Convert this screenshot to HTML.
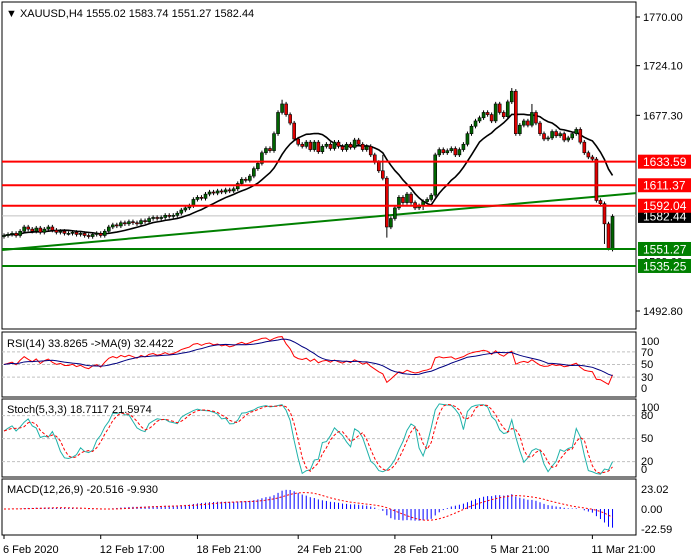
<!DOCTYPE html>
<html><head><meta charset="utf-8"><style>
body{margin:0;background:#fff;}
svg{display:block;font-family:"Liberation Sans",sans-serif;}
</style></head><body>
<svg id="chart" width="700" height="560" xmlns="http://www.w3.org/2000/svg">
<rect x="0" y="0" width="700" height="560" fill="#fff"/>
<g id="main"></g>
<g id="rsi"></g>
<g id="stoch"></g>
<g id="macd"></g>
<g id="xaxis"></g>
</svg>
<script>
const closes=[1564,1565,1566,1564,1568,1572,
1570,1568,1571,1567,1570,1572,1569,
1567,1568,1566,1566,1567,
1565,1566,1564,1563,1565,1566,1564,
1568,1572,1574,1573,1576,1575,
1577,1576,1575,1578,1577,1580,1581,
1580,1581,1583,1582,1583,1585,1588,
1590,1592,1598,1600,1599,1603,
1605,1604,1606,1605,1607,1606,1608,
1613,1617,1616,1620,1627,1632,
1642,1646,1644,1660,1680,1688,
1678,1670,1655,1650,1648,1652,
1645,1652,1643,1648,1650,1646,1652,
1648,1645,1650,1647,1654,1650,
1645,1648,1640,1633,1625,1618,
1572,1580,1590,1600,1595,1603,
1595,1590,1592,1596,1598,1602,1640,
1645,1642,1644,1646,1640,1645,
1650,1660,1667,1672,1675,1680,
1678,1672,1688,1680,1676,1690,
1700,1660,1668,1672,1668,1680,
1670,1660,1655,1656,1662,1658,
1660,1654,1656,1660,1664,1652,1642,
1638,1636,1597,1594,1575,1551,1582];
const longLows={95:1562,104:1588,150:1550,149:1556};
const longHighs={69:1692,126:1703,94:1640,131:1688};
const hLevelsRed=[1633.59,1611.37,1592.04];
const hLevelsGreen=[1551.27,1535.25];
const trendStart=1550.3, trendEnd=1604.0;
const priceTicks=[1770.00,1724.10,1677.30,1492.80];
const dateLabels=["6 Feb 2020","12 Feb 17:00","18 Feb 21:00","24 Feb 21:00","28 Feb 21:00","5 Mar 21:00","11 Mar 21:00"];
const dateBars=[0,24,48,73,97,121,146];
const rsiLevels=[70,50,30];
const stochLevels=[80,50,20];

const NS="http://www.w3.org/2000/svg";
function mk(p,t,a){const e=document.createElementNS(NS,t);for(const k in a)e.setAttribute(k,a[k]);p.appendChild(e);return e;}
const xOf=i=>4+i*4.03;
const yP=p=>17+(1770-p)*1.0606;
const L=2,R=636;

const opens=closes.map((c,i)=>i?closes[i-1]:1563);
const highs=closes.map((c,i)=>longHighs[i]!==undefined?longHighs[i]:Math.max(c,opens[i])+2);
const lows=closes.map((c,i)=>longLows[i]!==undefined?longLows[i]:Math.min(c,opens[i])-2);

const main=document.getElementById('main');
let r=mk(main,'rect',{x:L,y:2,width:R-L,height:327,fill:'none',stroke:'#000'});

let t=mk(main,'text',{x:6,y:17,'font-size':11,fill:'#000'});t.textContent='▼ XAUUSD,H4  1555.02 1583.74 1551.27 1582.44';


priceTicks.forEach(p=>{const y=yP(p);mk(main,'line',{x1:R,y1:y,x2:R+4,y2:y,stroke:'#000'});
 const tx=mk(main,'text',{x:643,y:y+4,'font-size':11,fill:'#000'});tx.textContent=p.toFixed(2);
 });

mk(main,'line',{x1:L,y1:yP(1582.44),x2:R,y2:yP(1582.44),stroke:'#c0c0c0'});
let tl=mk(main,'line',{x1:L,y1:yP(trendStart),x2:R,y2:yP(trendEnd),stroke:'#008000','stroke-width':2});


const maP=12;const ma=closes.map((c,i)=>{const s=closes.slice(Math.max(0,i-maP+1),i+1);return s.reduce((a,b)=>a+b,0)/s.length;});
let pm=mk(main,'polyline',{points:ma.map((v,i)=>xOf(i)+','+yP(v)).join(' '),fill:'none',stroke:'#000','stroke-width':1.6});


closes.forEach((c,i)=>{const o=opens[i],x=xOf(i);const g=mk(main,'g',{});
 
 mk(g,'line',{x1:x,y1:yP(highs[i]),x2:x,y2:yP(lows[i]),stroke:'#000'});
 const top=yP(Math.max(o,c)),bot=yP(Math.min(o,c));
 mk(g,'rect',{x:x-1.5,y:top,width:3,height:Math.max(1,bot-top),fill:c>=o?'#006400':'#e00000',stroke:'#000','stroke-width':0.6});});

function level(p,col,nm){const y=yP(p);const l=mk(main,'line',{x1:L,y1:y,x2:R,y2:y,stroke:col,'stroke-width':2});
 }
hLevelsRed.forEach(p=>level(p,'#ff0000','resistance-line'));
hLevelsGreen.forEach(p=>level(p,'#008000','support-line'));
function tag(p,bg,nm){const y=yP(p);const g=mk(main,'g',{});
 mk(g,'rect',{x:R+2,y:y-7,width:53,height:14,fill:bg});
 const tx=mk(g,'text',{x:643,y:y+4.5,'font-size':12,fill:'#fff'});tx.textContent=p.toFixed(2);}
tag(1582.44,'#000','bid-price-tag');
let hid=mk(main,'text',{x:643,y:yP(1539.6)+4,'font-size':11,fill:'#000'});hid.textContent='1539.60';
hLevelsRed.forEach(p=>tag(p,'#ff0000','resistance-price-tag'));
hLevelsGreen.forEach(p=>tag(p,'#008000','support-price-tag'));

// RSI
function rsiCalc(n){const out=[];let ag=1,al=1;for(let i=0;i<closes.length;i++){
 if(i===0){out.push(50);continue;}const d=closes[i]-closes[i-1];const g=Math.max(d,0),l=Math.max(-d,0);
 ag=(ag*(n-1)+g)/n;al=(al*(n-1)+l)/n;
 out.push(al===0?100:100-100/(1+ag/al));}return out;}
const rsiV=rsiCalc(14);
const rsiMA=rsiV.map((v,i)=>{const s=rsiV.slice(Math.max(0,i-8),i+1);return s.reduce((a,b)=>a+b,0)/s.length;});
const rsiG=document.getElementById('rsi');
const yR=v=>396-v*0.63;
mk(rsiG,'rect',{x:L,y:332,width:R-L,height:65,fill:'none',stroke:'#000'});
rsiLevels.forEach(v=>mk(rsiG,'line',{x1:L,y1:yR(v),x2:R,y2:yR(v),stroke:'#c0c0c0','stroke-dasharray':'3,2'}));
[[100,345],[70,356],[50,368],[30,381],[0,392]].forEach(a=>{const tx=mk(rsiG,'text',{x:641,y:a[1],'font-size':11});tx.textContent=a[0];
 });
let rl=mk(rsiG,'polyline',{points:rsiV.map((v,i)=>xOf(i)+','+yR(v)).join(' '),fill:'none',stroke:'#ff0000'});

let rm=mk(rsiG,'polyline',{points:rsiMA.map((v,i)=>xOf(i)+','+yR(v)).join(' '),fill:'none',stroke:'#000080'});

t=mk(rsiG,'text',{x:7,y:347,'font-size':11});t.textContent='RSI(14) 33.8265  ->MA(9) 32.4422';


// Stoch
const raw=closes.map((c,i)=>{const s=Math.max(0,i-4);const hh=Math.max(...highs.slice(s,i+1)),ll=Math.min(...lows.slice(s,i+1));return [c-ll,hh-ll];});
const kV=raw.map((v,i)=>{let a=0,b=0;for(let j=Math.max(0,i-2);j<=i;j++){a+=raw[j][0];b+=raw[j][1];}return b?100*a/b:50;});
const dV=kV.map((v,i)=>{const s=kV.slice(Math.max(0,i-2),i+1);return s.reduce((a,b)=>a+b,0)/s.length;});
const stG=document.getElementById('stoch');
const yS=v=>477-v*0.767;
mk(stG,'rect',{x:L,y:399,width:R-L,height:78,fill:'none',stroke:'#000'});
stochLevels.forEach(v=>mk(stG,'line',{x1:L,y1:yS(v),x2:R,y2:yS(v),stroke:'#c0c0c0','stroke-dasharray':'3,2'}));
[[100,411],[80,419],[50,442],[20,465],[0,473]].forEach(a=>{const tx=mk(stG,'text',{x:641,y:a[1],'font-size':11});tx.textContent=a[0];
 });
let sk=mk(stG,'polyline',{points:kV.map((v,i)=>xOf(i)+','+yS(v)).join(' '),fill:'none',stroke:'#20b2aa'});

let sd=mk(stG,'polyline',{points:dV.map((v,i)=>xOf(i)+','+yS(v)).join(' '),fill:'none',stroke:'#ff0000','stroke-dasharray':'3,2'});

t=mk(stG,'text',{x:7,y:413,'font-size':11});t.textContent='Stoch(5,3,3) 18.7117 21.5974';


// MACD
function ema(arr,n){const k=2/(n+1);let e=arr[0];return arr.map(v=>e=v*k+e*(1-k));}
const e12=ema(closes,12),e26=ema(closes,26);
const macdV=e12.map((v,i)=>v-e26[i]);
const sigV=macdV.map((v,i)=>{const s=macdV.slice(Math.max(0,i-8),i+1);return s.reduce((a,b)=>a+b,0)/s.length;});
const mG=document.getElementById('macd');
const yM=v=>509-v*0.87;
mk(mG,'rect',{x:L,y:479,width:R-L,height:56,fill:'none',stroke:'#000'});
[['23.02',493],['0.00',513],['-22.59',533]].forEach(a=>{const tx=mk(mG,'text',{x:641,y:a[1],'font-size':11});tx.textContent=a[0];
 });
macdV.forEach((v,i)=>{const b=mk(mG,'line',{x1:xOf(i),y1:yM(0),x2:xOf(i),y2:yM(v),stroke:'#0000ff'});
 });
let sg=mk(mG,'polyline',{points:sigV.map((v,i)=>xOf(i)+','+yM(v)).join(' '),fill:'none',stroke:'#ff0000','stroke-dasharray':'2,2'});

t=mk(mG,'text',{x:7,y:493,'font-size':11});t.textContent='MACD(12,26,9) -20.516 -9.930';


// X axis
const xa=document.getElementById('xaxis');
dateLabels.forEach((d,k)=>{const x=xOf(dateBars[k]);mk(xa,'line',{x1:x,y1:535,x2:x,y2:539,stroke:'#000'});
 const tx=mk(xa,'text',{x:x-1,y:553,'font-size':11});tx.textContent=d;
 });
</script>
</body></html>
